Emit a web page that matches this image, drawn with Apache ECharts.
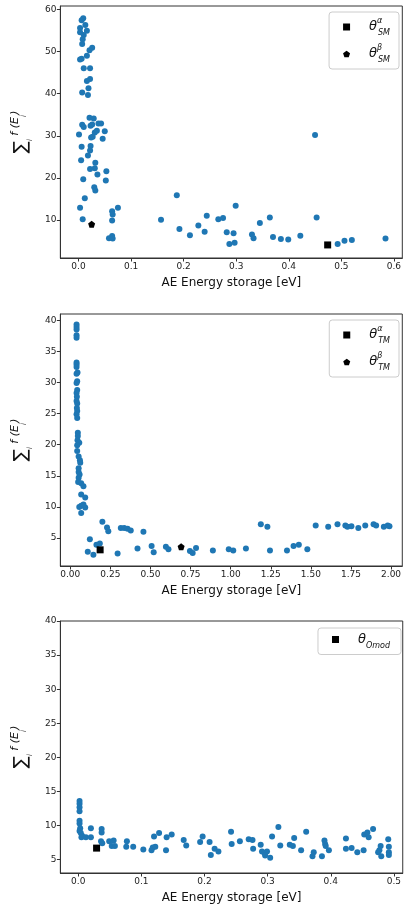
<!DOCTYPE html>
<html>
<head>
<meta charset="utf-8">
<script src="https://cdn.jsdelivr.net/npm/echarts@6/dist/echarts.min.js"></script>
<style>
html, body { margin: 0; padding: 0; background: #fff; }
#chart { width: 404px; height: 909px; }
</style>
</head>
<body>
<div id="chart"></div>
<script>
// panel 1: SM
var smX = [0.009, 0.006, 0.013, 0.003, 0.016, 0.003, 0.010, 0.008, 0.007, 0.026, 0.021, 0.003, 0.006, 0.016, 0.010, 0.022,
  0.022, 0.016, 0.019, 0.007, 0.018, 0.021, 0.029, 0.007, 0.010, 0.023, 0.026, 0.038, 0.043, 0.031, 0.035, 0.050,
  0.001, 0.027, 0.024, 0.046, 0.006, 0.023, 0.022, 0.018, 0.005, 0.032, 0.031, 0.022, 0.036, 0.053, 0.052, 0.009,
  0.030, 0.032, 0.012, 0.003, 0.008, 0.064, 0.065, 0.064, 0.075, 0.058, 0.064, 0.065,
  0.157, 0.187, 0.192, 0.212, 0.228, 0.240, 0.244, 0.266, 0.275, 0.282, 0.287, 0.295, 0.297, 0.299, 0.330, 0.333,
  0.345, 0.364, 0.370, 0.385, 0.399, 0.422, 0.450, 0.453, 0.493, 0.506, 0.520, 0.584];
var smY = [57.9, 57.4, 56.3, 55.6, 54.9, 54.6, 53.9, 52.9, 51.8, 50.9, 50.3, 48.1, 48.3, 49.0, 46.0, 46.0,
  43.5, 43.0, 41.3, 40.3, 39.7, 34.3, 34.1, 32.6, 32.1, 32.4, 32.7, 32.9, 32.9, 30.8, 31.2, 31.1,
  30.3, 29.8, 29.6, 29.3, 27.4, 27.6, 26.5, 25.3, 24.2, 23.6, 22.3, 22.1, 20.8, 21.6, 19.4, 19.7,
  17.8, 17.0, 15.2, 12.9, 10.2, 12.1, 11.3, 9.9, 12.9, 5.7, 6.2, 5.6,
  10.1, 15.9, 7.9, 6.4, 8.7, 7.2, 11.0, 10.2, 10.5, 7.1, 4.3, 6.9, 4.6, 13.4, 6.6, 5.7,
  9.3, 10.6, 6.0, 5.5, 5.4, 6.3, 30.2, 10.6, 4.3, 5.1, 5.3, 5.6];
var smAlpha = [0.474, 4.1];
var smBeta = [0.025, 9.0];

// panel 2: TM
var tmX = [0.039, 0.039, 0.039, 0.039, 0.039, 0.039, 0.039, 0.039, 0.045, 0.039, 0.043, 0.039, 0.043, 0.039, 0.041,
  0.039, 0.043, 0.041, 0.043, 0.039, 0.043, 0.047, 0.047, 0.045, 0.056, 0.043, 0.043, 0.052, 0.060, 0.062,
  0.052, 0.052, 0.058, 0.052, 0.049, 0.068, 0.082, 0.068, 0.093, 0.068, 0.056, 0.093, 0.068, 0.082,
  0.200, 0.229, 0.237, 0.315, 0.336, 0.357, 0.377, 0.456, 0.122, 0.109, 0.144, 0.163, 0.184, 0.295, 0.419,
  0.507, 0.520, 0.596, 0.612, 0.746, 0.763, 0.784, 0.889, 0.988, 1.016, 1.095, 1.188, 1.229, 1.245, 1.351,
  1.392, 1.425, 1.478, 1.530, 1.608, 1.666, 1.715, 1.728, 1.753, 1.796, 1.839, 1.891, 1.907, 1.955, 1.979, 1.990];
var tmY = [39.3, 38.9, 38.5, 37.6, 37.2, 33.2, 32.9, 32.5, 31.6, 31.4, 30.2, 29.9, 28.8, 28.3, 27.7,
  27.0, 26.6, 25.9, 25.4, 24.9, 24.3, 21.9, 21.4, 20.7, 20.3, 19.9, 19.0, 18.1, 17.5, 17.1,
  16.2, 15.6, 15.2, 14.7, 14.0, 13.8, 13.3, 12.0, 11.5, 10.2, 10.0, 9.9, 9.0, 10.4,
  7.6, 6.7, 6.1, 6.6, 6.6, 6.5, 6.2, 6.0, 4.8, 2.8, 2.3, 3.9, 4.1, 2.5, 3.3,
  3.7, 2.7, 3.6, 3.2, 2.9, 2.6, 3.4, 3.0, 3.2, 3.0, 3.3, 7.2, 6.8, 3.0, 3.0,
  3.7, 3.9, 3.2, 7.0, 6.8, 7.2, 7.0, 6.8, 6.9, 6.6, 7.0, 7.2, 7.0, 6.8, 7.0, 6.9];
var tmAlpha = [0.186, 3.1];
var tmBeta = [0.691, 3.6];

// panel 3: Omod
var omX = [0.002, 0.002, 0.002, 0.002, 0.002, 0.002, 0.003, 0.002, 0.004, 0.006, 0.005, 0.012, 0.020, 0.020,
  0.037, 0.037, 0.036, 0.038, 0.049, 0.053, 0.056, 0.058, 0.077, 0.076, 0.087, 0.103, 0.116, 0.118, 0.120,
  0.122, 0.128, 0.139, 0.140, 0.148, 0.167, 0.171, 0.193, 0.197, 0.208, 0.210, 0.216, 0.222, 0.242, 0.243,
  0.256, 0.270, 0.276, 0.277, 0.289, 0.291, 0.295, 0.299, 0.296, 0.304, 0.307, 0.317, 0.320, 0.335, 0.340,
  0.342, 0.353, 0.361, 0.371, 0.373, 0.386, 0.390, 0.391, 0.392, 0.397, 0.424, 0.424, 0.433, 0.442, 0.452,
  0.453, 0.458, 0.460, 0.467, 0.475, 0.479, 0.477, 0.480, 0.491, 0.492, 0.492, 0.492];
var omY = [13.6, 13.2, 12.7, 12.1, 10.7, 10.3, 9.6, 9.2, 8.9, 8.5, 8.3, 8.3, 8.3, 9.6,
  9.5, 9.0, 7.7, 7.4, 7.7, 7.0, 7.8, 7.0, 7.7, 6.9, 6.9, 6.5, 6.4, 6.8, 8.4,
  6.9, 8.9, 6.4, 8.3, 8.7, 7.9, 7.1, 7.6, 8.4, 7.6, 5.7, 6.6, 6.2, 9.1, 7.3,
  7.7, 8.0, 7.9, 6.6, 7.2, 6.2, 6.0, 6.2, 5.6, 5.3, 8.4, 9.8, 7.1, 7.2, 7.0,
  8.2, 6.4, 9.1, 5.5, 6.1, 5.5, 7.8, 7.3, 7.0, 6.4, 8.1, 6.6, 6.7, 6.1, 6.4,
  8.7, 9.0, 8.3, 9.5, 6.1, 7.0, 6.4, 5.5, 8.0, 6.9, 6.1, 5.7];
var omAlpha = [0.029, 6.7];

var smTicks = [0, 0.1, 0.2, 0.3, 0.4, 0.5, 0.6];
var tmTicks = [0, 0.25, 0.5, 0.75, 1.0, 1.25, 1.5, 1.75, 2.0];
var omTicks = [0, 0.1, 0.2, 0.3, 0.4, 0.5];
var smYTicks = [10, 20, 30, 40, 50, 60];
var tmYTicks = [5, 10, 15, 20, 25, 30, 35, 40];
var omYTicks = [5, 10, 15, 20, 25, 30, 35, 40];

var BLUE = '#1f77b4';
var FONT = 'DejaVu Sans';
var PENT = 'path://M0,-1 L0.951,-0.309 L0.588,0.809 L-0.588,0.809 L-0.951,-0.309 Z';

function pairs(xs, ys) {
  var out = [];
  for (var i = 0; i < xs.length; i++) out.push([xs[i], ys[i]]);
  return out;
}

function xAxisOf(idx, min, max, ticks, dec) {
  return {
    gridIndex: idx, type: 'value', min: min, max: max,
    name: 'AE Energy storage [eV]', nameLocation: 'middle', nameGap: 19,
    nameTextStyle: { fontFamily: FONT, fontSize: 12, color: '#111' },
    splitLine: { show: false },
    axisLine: { onZero: false, lineStyle: { color: '#333', width: 1 } },
    axisTick: { inside: false, length: 3.5, customValues: ticks, lineStyle: { color: '#333' } },
    axisLabel: { customValues: ticks, margin: 4, fontFamily: FONT, fontSize: 9, color: '#222',
      formatter: function (v) { return v.toFixed(dec); } }
  };
}

function yAxisOf(idx, min, max, ticks) {
  return {
    gridIndex: idx, type: 'value', min: min, max: max,
    name: '{sig|∑}{sub|i}{f| f (E}{sub2|i}{f|)}', nameLocation: 'middle', nameGap: 23, nameRotate: 90,
    nameTextStyle: {
      fontFamily: FONT, color: '#111',
      rich: {
        sig: { fontSize: 18, fontFamily: FONT, lineHeight: 26, verticalAlign: 'middle' },
        sub: { fontSize: 7, fontFamily: FONT, fontStyle: 'italic', lineHeight: 26, verticalAlign: 'bottom' },
        f: { fontSize: 11, fontFamily: FONT, fontStyle: 'italic', lineHeight: 26, verticalAlign: 'top', padding: [2, 0, 0, 0] },
        sub2: { fontSize: 7, fontFamily: FONT, fontStyle: 'italic', lineHeight: 26, verticalAlign: 'middle', padding: [6, 0, 0, 0] }
      }
    },
    splitLine: { show: false },
    axisLine: { onZero: false, lineStyle: { color: '#333', width: 1 } },
    axisTick: { inside: false, length: 3.5, customValues: ticks, lineStyle: { color: '#333' } },
    axisLabel: { customValues: ticks, margin: 4, fontFamily: FONT, fontSize: 9, color: '#222' }
  };
}

var legendRich = {
  t: { fontFamily: FONT, fontStyle: 'italic', fontSize: 13, color: '#111', lineHeight: 20, verticalAlign: 'middle', padding: [0, 0, 0, 14] },
  sup: { fontFamily: FONT, fontStyle: 'italic', fontSize: 8, color: '#111', lineHeight: 20, verticalAlign: 'top', width: 1 },
  sub: { fontFamily: FONT, fontStyle: 'italic', fontSize: 8, color: '#111', lineHeight: 20, verticalAlign: 'bottom' }
};
var legendText = {
  'aSM': '{t|θ}{sup|α}{sub|SM}',
  'bSM': '{t|θ}{sup|β}{sub|SM}',
  'aTM': '{t|θ}{sup|α}{sub|TM}',
  'bTM': '{t|θ}{sup|β}{sub|TM}',
  'aOm': '{t|θ}{sub|Omod}'
};

function legendOf(names, top, right, padRight) {
  return {
    data: names, orient: 'vertical', top: top, right: right,
    backgroundColor: '#fff', borderColor: '#ccc', borderWidth: 1, borderRadius: 3,
    padding: [5, padRight, 5, 14], itemGap: 7, itemWidth: 7, itemHeight: 7,
    itemStyle: { color: '#000' },
    textStyle: { rich: legendRich },
    formatter: function (n) { return legendText[n]; },
    selectedMode: false
  };
}

function blue(idx, data) {
  return { type: 'scatter', xAxisIndex: idx, yAxisIndex: idx, data: data, symbol: 'circle', symbolSize: 6,
    itemStyle: { color: BLUE, opacity: 1 }, silent: true, z: 2 };
}
function mark(name, idx, pt, symbol, size) {
  return { type: 'scatter', name: name, xAxisIndex: idx, yAxisIndex: idx, data: [pt], symbol: symbol, symbolSize: size,
    itemStyle: { color: '#000', opacity: 1 }, silent: true, z: 3 };
}

var chart = echarts.init(document.getElementById('chart'), null, { renderer: 'canvas' });
chart.setOption({
  backgroundColor: '#fff',
  animation: false,
  grid: [
    { left: 58, right: 1, top: 6, height: 252, show: true, borderColor: '#333', borderWidth: 1 },
    { left: 58, right: 1, top: 314, height: 252, show: true, borderColor: '#333', borderWidth: 1 },
    { left: 58, right: 1, top: 621, height: 252, show: true, borderColor: '#333', borderWidth: 1 }
  ],
  xAxis: [
    xAxisOf(0, -0.0345, 0.616, smTicks, 1),
    xAxisOf(1, -0.062, 2.07, tmTicks, 2),
    xAxisOf(2, -0.0284, 0.514, omTicks, 1)
  ],
  yAxis: [
    yAxisOf(0, 1.0, 60.8, smYTicks),
    yAxisOf(1, 0.5, 41, tmYTicks),
    yAxisOf(2, 3.05, 40, omYTicks)
  ],
  legend: [
    legendOf(['aSM', 'bSM'], 12, 5, 9),
    legendOf(['aTM', 'bTM'], 320, 5, 9),
    legendOf(['aOm'], 628, 3, 11)
  ],
  series: [
    blue(0, pairs(smX, smY)),
    mark('aSM', 0, smAlpha, 'rect', 7),
    mark('bSM', 0, smBeta, PENT, 7),
    blue(1, pairs(tmX, tmY)),
    mark('aTM', 1, tmAlpha, 'rect', 7),
    mark('bTM', 1, tmBeta, PENT, 7),
    blue(2, pairs(omX, omY)),
    mark('aOm', 2, omAlpha, 'rect', 7)
  ]
});
</script>
</body>
</html>
